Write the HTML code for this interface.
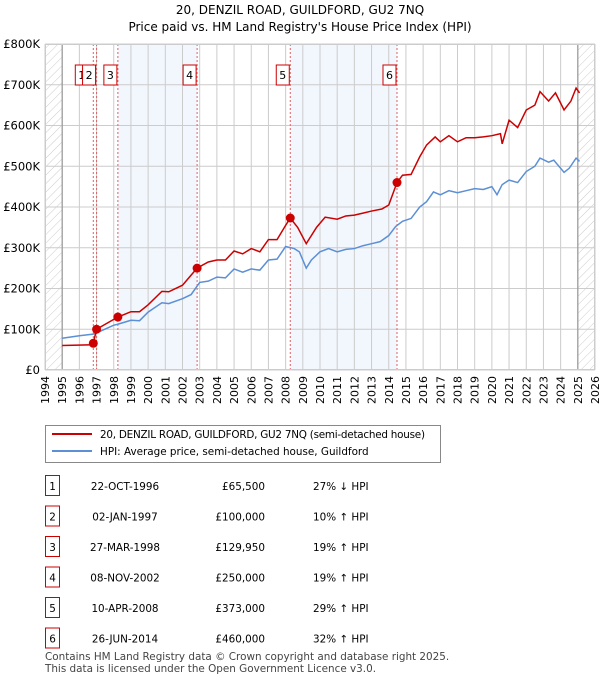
<!DOCTYPE html>
<html><head><meta charset="utf-8"><style>
body{margin:0;background:#fff;font-family:"DejaVu Sans","Liberation Sans",sans-serif;}
svg text{font-family:"DejaVu Sans","Liberation Sans",sans-serif;}
</style></head><body>
<svg id="c" width="600" height="680" xmlns="http://www.w3.org/2000/svg">
<defs><pattern id="hatch" width="6" height="6" patternUnits="userSpaceOnUse" patternTransform="rotate(45)"><line x1="0" y1="0" x2="0" y2="6" stroke="#ccc" stroke-width="1"/></pattern></defs>
<text x="300" y="14" text-anchor="middle" font-size="12">20, DENZIL ROAD, GUILDFORD, GU2 7NQ</text>
<text x="300" y="31" text-anchor="middle" font-size="12">Price paid vs. HM Land Registry's House Price Index (HPI)</text>
<g id="plot"></g>
<g>
<rect x="45.5" y="425.5" width="395" height="37" fill="#fff" stroke="#888"/>
<line x1="52" y1="434" x2="92" y2="434" stroke="#cc0000" stroke-width="2"/>
<text x="100" y="438" font-size="10.4" textLength="325">20, DENZIL ROAD, GUILDFORD, GU2 7NQ (semi-detached house)</text>
<line x1="52" y1="451" x2="92" y2="451" stroke="#5b8fd6" stroke-width="2"/>
<text x="100" y="455" font-size="10.4">HPI: Average price, semi-detached house, Guildford</text>
</g>
<g id="table"></g>
<text x="45" y="660" font-size="10.4" fill="#444">Contains HM Land Registry data © Crown copyright and database right 2025.</text>
<text x="45" y="672" font-size="10.4" fill="#444">This data is licensed under the Open Government Licence v3.0.</text>
</svg>
<script>
const hpiYears=[1995,1996,1996.8,1997,1998,1998.2,1999,1999.5,2000,2000.8,2001.2,2002,2002.5,2003,2003.5,2004,2004.5,2005,2005.5,2006,2006.5,2007,2007.5,2008,2008.5,2008.8,2009.2,2009.5,2010,2010.5,2011,2011.5,2012,2012.5,2013,2013.5,2014,2014.4,2014.8,2015.3,2015.8,2016.2,2016.6,2017,2017.5,2018,2018.5,2019,2019.5,2020,2020.3,2020.6,2021,2021.5,2022,2022.5,2022.8,2023.3,2023.6,2024.2,2024.5,2024.9,2025.1];
const hpiValues=[78,84,88,91,110,112,122,121,142,165,163,175,185,215,218,228,226,248,240,248,245,270,272,303,298,290,250,270,290,298,290,296,298,305,310,315,330,352,365,372,400,413,437,430,440,435,440,445,443,450,430,455,466,460,487,500,520,510,515,485,495,520,512];
const priceYears=[1995,1996.8,1996.81,1997,1998.24,1999,1999.5,2000,2000.8,2001.2,2002,2002.85,2003.5,2004,2004.5,2005,2005.5,2006,2006.5,2007,2007.5,2008,2008.27,2008.7,2009.2,2009.8,2010.3,2011,2011.5,2012,2012.5,2013,2013.6,2014,2014.48,2014.8,2015.3,2015.8,2016.2,2016.7,2017,2017.5,2018,2018.5,2019,2019.5,2020,2020.5,2020.6,2021,2021.5,2022,2022.5,2022.8,2023.3,2023.7,2024.2,2024.6,2024.9,2025.1];
const priceValues=[60,62,65.5,100,130,143,143,160,193,192,208,250,265,270,270,292,285,298,290,320,320,355,373,350,310,350,375,370,378,380,385,390,395,405,460,478,480,523,552,572,560,575,560,570,570,572,575,580,555,613,595,638,650,683,660,680,638,660,692,680];
const saleNums=[1,2,3,4,5,6];
const saleYears=[1996.81,1997.0,1998.24,2002.85,2008.27,2014.48];
const saleValues=[65.5,100,129.95,250,373,460];
const saleDates=["22-OCT-1996","02-JAN-1997","27-MAR-1998","08-NOV-2002","10-APR-2008","26-JUN-2014"];
const salePrices=["£65,500","£100,000","£129,950","£250,000","£373,000","£460,000"];
const saleHpi=["27% ↓ HPI","10% ↑ HPI","19% ↑ HPI","19% ↑ HPI","29% ↑ HPI","32% ↑ HPI"];
const yTicks=[0,100,200,300,400,500,600,700,800];
const yTickLabels=["£0","£100K","£200K","£300K","£400K","£500K","£600K","£700K","£800K"];
const xTicks=[1994,1995,1996,1997,1998,1999,2000,2001,2002,2003,2004,2005,2006,2007,2008,2009,2010,2011,2012,2013,2014,2015,2016,2017,2018,2019,2020,2021,2022,2023,2024,2025,2026];

const X0=45,X1=595,Y0=370,Y1=44;
const xs=y=>X0+(y-1994)/(2026-1994)*(X1-X0);
const ys=v=>Y0-v/800*(Y0-Y1);
const NS="http://www.w3.org/2000/svg";
function mk(tag,attrs,parent){const e=document.createElementNS(NS,tag);for(const k in attrs)e.setAttribute(k,attrs[k]);parent.appendChild(e);return e;}
const plot=document.getElementById('plot');
for(let i=2;i<6;i+=2){const r=mk('rect',{x:xs(saleYears[i]),y:Y1,width:xs(saleYears[i+1])-xs(saleYears[i]),height:Y0-Y1,fill:'#f2f6fd'},plot);

}
const h1=mk('rect',{x:X0,y:Y1,width:xs(1995)-X0,height:Y0-Y1,fill:'url(#hatch)'},plot);


const h2=mk('rect',{x:xs(2025),y:Y1,width:X1-xs(2025),height:Y0-Y1,fill:'url(#hatch)'},plot);


xTicks.forEach(t=>{const l=mk('line',{x1:xs(t),x2:xs(t),y1:Y1,y2:Y0,stroke:'#ccc'},plot);


const tx=mk('text',{x:0,y:0,'font-size':11,'text-anchor':'end',transform:`translate(${xs(t)+4},${Y0+6}) rotate(-90)`},plot);tx.textContent=t;

});
yTicks.forEach((t,i)=>{const l=mk('line',{x1:X0,x2:X1,y1:ys(t),y2:ys(t),stroke:'#ccc'},plot);


const tx=mk('text',{x:X0-5,y:ys(t)+4,'font-size':11.5,'text-anchor':'end'},plot);tx.textContent=yTickLabels[i];

});
mk('line',{x1:xs(1995),x2:xs(1995),y1:Y1,y2:Y0,stroke:'#999',"stroke-width":1.2},plot);
mk('line',{x1:xs(2025),x2:xs(2025),y1:Y1,y2:Y0,stroke:'#999',"stroke-width":1.2},plot);
saleYears.forEach((y,i)=>{const l=mk('line',{x1:xs(y),x2:xs(y),y1:Y1,y2:Y0,stroke:'#e06060','stroke-dasharray':'2,2'},plot);


const bx=xs(y)-14+(i==0?-4:0);
const r=mk('rect',{x:bx,y:65,width:13,height:20,fill:'#fff',stroke:'#cc0000'},plot);


const tx=mk('text',{x:bx+6.5,y:79,'font-size':11,'text-anchor':'middle'},plot);tx.textContent=saleNums[i];

});
const hp=mk('polyline',{points:hpiYears.map((y,i)=>xs(y)+','+ys(hpiValues[i])).join(' '),fill:'none',stroke:'#5b8fd6','stroke-width':1.5},plot);


const pp=mk('polyline',{points:priceYears.map((y,i)=>xs(y)+','+ys(priceValues[i])).join(' '),fill:'none',stroke:'#cc0000','stroke-width':1.5},plot);


saleYears.forEach((y,i)=>{const c=mk('circle',{cx:xs(y),cy:ys(saleValues[i]),r:4.5,fill:'#cc0000'},plot);

});
mk('rect',{x:X0+0.5,y:Y1+0.5,width:X1-X0-1,height:Y0-Y1-1,fill:'none',stroke:'#ccc'},plot);
const tb=document.getElementById('table');
saleNums.forEach((n,i)=>{const y0=475+i*30.5;
const r=mk('rect',{x:45.5,y:y0+0.5,width:14,height:20,fill:'#fff',stroke:'#cc0000'},tb);


const vals=[[52.5,n,'middle'],[125,saleDates[i],'middle'],[265,salePrices[i],'end'],[313,saleHpi[i],'start']];
vals.forEach(v=>{const t=mk('text',{x:v[0],y:y0+15,'font-size':10.4,'text-anchor':v[2]},tb);t.textContent=v[1];

});});
</script>
</body></html>
